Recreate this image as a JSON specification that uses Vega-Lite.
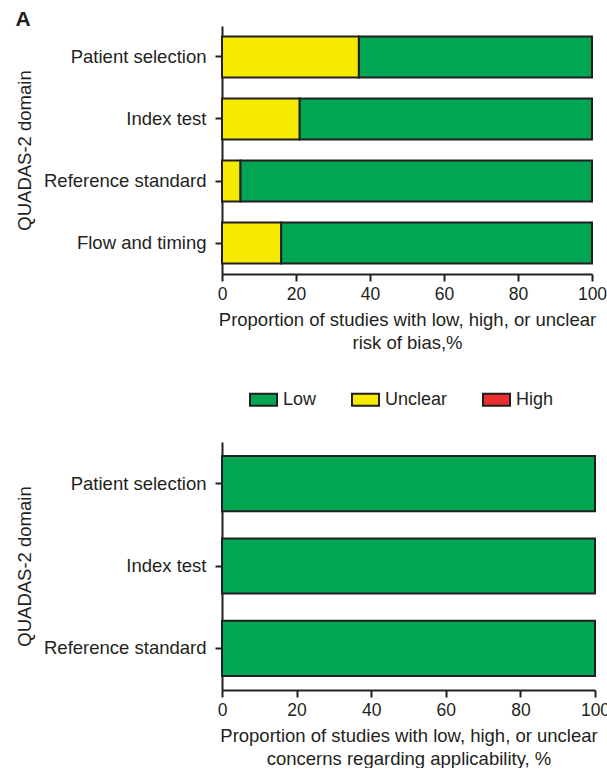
{
  "$schema": "https://vega.github.io/schema/vega-lite/v6.json",
  "padding": {"left": 15, "top": 9, "right": 0, "bottom": 0},
  "title": {"text": "A", "anchor": "start", "fontSize": 21, "fontWeight": "bold", "font": "Liberation Sans", "color": "#231f20", "dx": 0, "dy": 4, "offset": 0, "frame": "bounds"},
  "datasets": {
    "bias": [
      {"domain": "Patient selection", "judgement": "Unclear", "percent": 37},
      {"domain": "Patient selection", "judgement": "Low", "percent": 63},
      {"domain": "Index test", "judgement": "Unclear", "percent": 21},
      {"domain": "Index test", "judgement": "Low", "percent": 79},
      {"domain": "Reference standard", "judgement": "Unclear", "percent": 5},
      {"domain": "Reference standard", "judgement": "Low", "percent": 95},
      {"domain": "Flow and timing", "judgement": "Unclear", "percent": 16},
      {"domain": "Flow and timing", "judgement": "Low", "percent": 84}
    ],
    "applic": [
      {"domain": "Patient selection", "judgement": "Low", "percent": 100},
      {"domain": "Index test", "judgement": "Low", "percent": 100},
      {"domain": "Reference standard", "judgement": "Low", "percent": 100}
    ]
  },
  "config": {
    "font": "Liberation Sans",
    "view": {"stroke": null},
    "axis": {"domainColor": "#231f20", "domainWidth": 2, "tickColor": "#231f20", "tickWidth": 2, "tickSize": 7, "labelFontSize": 18.5, "titleFontSize": 18.5, "labelColor": "#231f20", "titleColor": "#231f20", "titleFontWeight": "normal", "grid": false, "labelFont": "Liberation Sans", "titleFont": "Liberation Sans"},
    "axisX": {"labelFontSize": 17.5},
    "legend": {"labelFontSize": 18, "labelFont": "Liberation Sans", "labelColor": "#231f20", "padding": 0},
    "concat": {"spacing": 33}
  },
  "resolve": {"legend": {"color": "independent"}},
  "vconcat": [
    {
      "width": 370,
      "height": 248,
      "data": {"name": "bias"},
      "mark": {"type": "bar", "stroke": "#231f20", "strokeWidth": 2, "opacity": 1},
      "encoding": {
        "y": {"field": "domain", "type": "nominal", "sort": ["Patient selection", "Index test", "Reference standard", "Flow and timing"], "scale": {"paddingInner": 0.34, "paddingOuter": 0.17}, "axis": {"title": "QUADAS-2 domain", "labelPadding": 9, "titlePadding": 9}},
        "x": {"field": "percent", "type": "quantitative", "stack": "zero", "scale": {"domain": [0, 100], "nice": false}, "axis": {"values": [0, 20, 40, 60, 80, 100], "labelFlush": false, "title": ["Proportion of studies with low, high, or unclear", "risk of bias,%"], "labelPadding": 4, "titlePadding": 8, "titleLineHeight": 23}},
        "color": {"field": "judgement", "type": "nominal", "scale": {"domain": ["Low", "Unclear", "High"], "range": ["#00a651", "#f5ea00", "#e8312f"]}, "legend": null},
        "order": {"field": "judgement", "sort": "descending"}
      }
    },
    {
      "width": 373,
      "height": 248,
      "data": {"name": "applic"},
      "mark": {"type": "bar", "stroke": "#231f20", "strokeWidth": 2, "opacity": 1},
      "encoding": {
        "y": {"field": "domain", "type": "nominal", "sort": ["Patient selection", "Index test", "Reference standard"], "scale": {"paddingInner": 0.33, "paddingOuter": 0.17}, "axis": {"title": "QUADAS-2 domain", "labelPadding": 9, "titlePadding": 9}},
        "x": {"field": "percent", "type": "quantitative", "stack": "zero", "scale": {"domain": [0, 100], "nice": false}, "axis": {"values": [0, 20, 40, 60, 80, 100], "labelFlush": false, "title": ["Proportion of studies with low, high, or unclear", "concerns regarding applicability, %"], "labelPadding": 4, "titlePadding": 8, "titleLineHeight": 23}},
        "color": {"field": "judgement", "type": "nominal", "scale": {"domain": ["Low", "Unclear", "High"], "range": ["#00a651", "#f5ea00", "#e8312f"]}, "legend": {"orient": "none", "legendX": 27, "legendY": -57, "direction": "horizontal", "columns": 3, "title": null, "symbolType": "M-1,-0.45H1V0.45H-1Z", "symbolSize": 729, "symbolStrokeColor": "#231f20", "symbolStrokeWidth": 2, "symbolOpacity": 1, "labelOffset": 5, "columnPadding": 31}},
        "order": {"field": "judgement", "sort": "descending"}
      }
    }
  ]
}
